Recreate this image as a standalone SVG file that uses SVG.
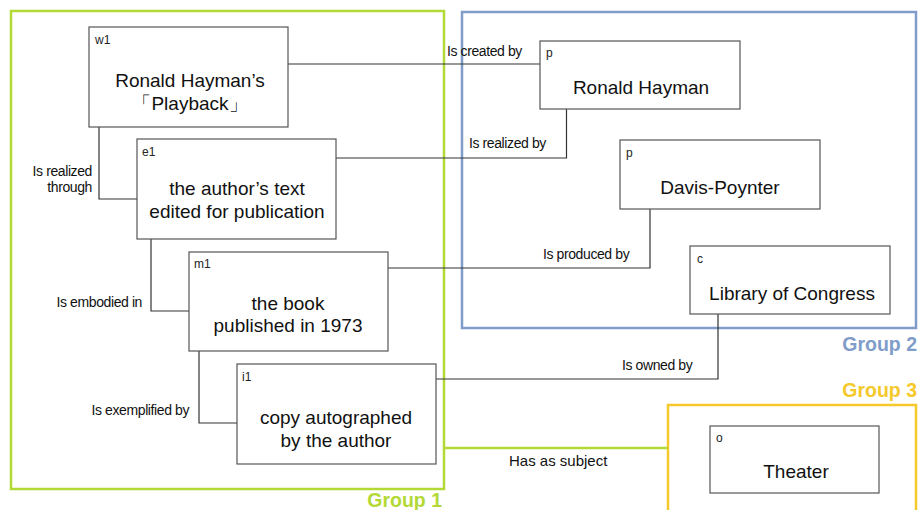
<svg xmlns="http://www.w3.org/2000/svg" width="921" height="510" viewBox="0 0 921 510">
<style>
.box{fill:#fff;stroke:#555;stroke-width:1.2}
.id{font-family:"Liberation Sans",Arial,sans-serif;font-size:12px;fill:#222}
.main{font-family:"Liberation Sans",Arial,sans-serif;font-size:19px;fill:#111;text-anchor:middle}
.lbl{font-family:"Liberation Sans",Arial,sans-serif;font-size:14px;fill:#111;letter-spacing:-0.4px}
.conn{fill:none;stroke:#333;stroke-width:1.2}
.grp{font-family:"Liberation Sans",Arial,sans-serif;font-size:19.5px;font-weight:bold;text-anchor:end}
</style>
<rect width="921" height="510" fill="#fff"/>
<g id="group1">
<rect x="11" y="11" width="433" height="478" fill="none" stroke="#b3d936" stroke-width="2.5"/>
<text class="grp" x="442" y="507" fill="#b3d936">Group 1</text>
</g>
<g id="group2">
<rect x="462" y="12" width="454" height="316" fill="none" stroke="#7f9dc8" stroke-width="2.5"/>
<text class="grp" x="917" y="351" fill="#7f9dc8">Group 2</text>
</g>
<g id="group3">
<rect x="668" y="405" width="248" height="120" fill="none" stroke="#f5c92a" stroke-width="2.5"/>
<text class="grp" x="917" y="397" fill="#f5c92a">Group 3</text>
</g>
<g id="connectors">
<path class="conn" d="M288 64 H540"/>
<path class="conn" d="M336 158 H566.5 V109"/>
<path class="conn" d="M388 268 H650 V209"/>
<path class="conn" d="M436 379 H718 V314"/>
<path class="conn" d="M99 127 V199 H137"/>
<path class="conn" d="M151 239 V311 H189"/>
<path class="conn" d="M199 351 V423 H237"/>
<path fill="none" stroke="#b3d936" stroke-width="2.5" d="M444 448 H668"/>
<text class="lbl" x="447" y="56">Is created by</text>
<text class="lbl" x="469" y="148">Is realized by</text>
<text class="lbl" x="543" y="259">Is produced by</text>
<text class="lbl" x="622" y="370">Is owned by</text>
<text class="lbl" x="509" y="466" style="letter-spacing:0;font-size:15px">Has as subject</text>
<text class="lbl" x="92" y="176" text-anchor="end">Is realized</text>
<text class="lbl" x="92" y="192" text-anchor="end">through</text>
<text class="lbl" x="142" y="307" text-anchor="end">Is embodied in</text>
<text class="lbl" x="189" y="415" text-anchor="end">Is exemplified by</text>
</g>
<g id="w1">
<rect class="box" x="89" y="27" width="199" height="100"/>
<text class="id" x="95" y="44">w1</text>
<text class="main" x="190" y="87">Ronald Hayman’s</text>
<text class="main" x="190" y="110">「Playback」</text>
</g>
<g id="e1">
<rect class="box" x="137" y="139" width="199" height="100"/>
<text class="id" x="142" y="156">e1</text>
<text class="main" x="237" y="195">the author’s text</text>
<text class="main" x="237" y="218">edited for publication</text>
</g>
<g id="m1">
<rect class="box" x="189" y="252" width="199" height="99"/>
<text class="id" x="194" y="268">m1</text>
<text class="main" x="288" y="310">the book</text>
<text class="main" x="288" y="332">published in 1973</text>
</g>
<g id="i1">
<rect class="box" x="237" y="364" width="199" height="100"/>
<text class="id" x="242" y="381">i1</text>
<text class="main" x="336" y="424">copy autographed</text>
<text class="main" x="336" y="447">by the author</text>
</g>
<g id="p-hayman">
<rect class="box" x="540" y="41" width="200" height="68"/>
<text class="id" x="546" y="57">p</text>
<text class="main" x="641" y="94">Ronald Hayman</text>
</g>
<g id="p-davis">
<rect class="box" x="620" y="140" width="200" height="69"/>
<text class="id" x="626" y="157">p</text>
<text class="main" x="720" y="194">Davis-Poynter</text>
</g>
<g id="c-loc">
<rect class="box" x="690" y="246" width="200" height="68"/>
<text class="id" x="697" y="263">c</text>
<text class="main" x="792" y="300">Library of Congress</text>
</g>
<g id="o-theater">
<rect class="box" x="710" y="426" width="169" height="67"/>
<text class="id" x="716" y="442">o</text>
<text class="main" x="796" y="478">Theater</text>
</g>
</svg>
